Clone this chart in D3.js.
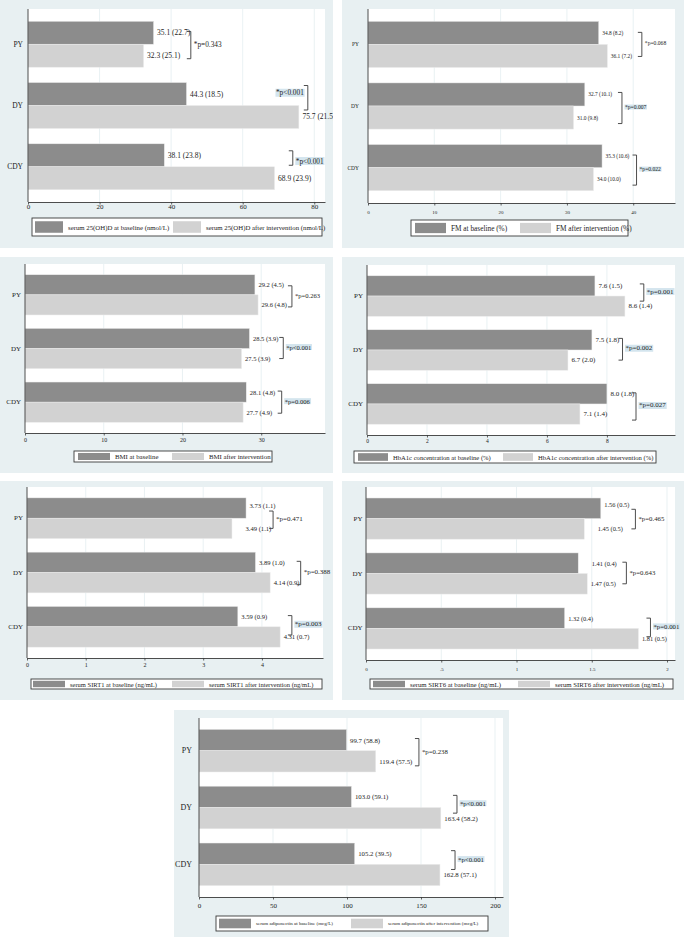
<!DOCTYPE html>
<html>
<head>
<meta charset="utf-8">
<script src="https://cdn.jsdelivr.net/npm/d3@7"></script>
<style>
html, body { margin: 0; padding: 0; background: #fff; }
svg { display: block; font-family: "Liberation Serif", "Times New Roman", serif; }
</style>
</head>
<body>
<div id="viz"></div>
<script>
// Seven paired bar panels: baseline vs after intervention, mean (SD), by group

const GROUPS = ["PY", "DY", "CDY"];

// serum 25(OH)D (nmol/L)
const VITD_BASE = [35.1, 44.3, 38.1];
const VITD_BASE_SD = [22.7, 18.5, 23.8];
const VITD_POST = [32.3, 75.7, 68.9];
const VITD_POST_SD = [25.1, 21.5, 23.9];
const VITD_P = ["=0.343", "<0.001", "<0.001"];
const VITD_TICKS = [0, 20, 40, 60, 80];

// fat mass (%)
const FM_BASE = [34.8, 32.7, 35.3];
const FM_BASE_SD = [8.2, 10.1, 10.6];
const FM_POST = [36.1, 31.0, 34.0];
const FM_POST_SD = [7.2, 9.8, 10.0];
const FM_P = ["=0.068", "=0.007", "=0.022"];
const FM_TICKS = [0, 10, 20, 30, 40];

// BMI
const BMI_BASE = [29.2, 28.5, 28.1];
const BMI_BASE_SD = [4.5, 3.9, 4.8];
const BMI_POST = [29.6, 27.5, 27.7];
const BMI_POST_SD = [4.8, 3.9, 4.9];
const BMI_P = ["=0.263", "<0.001", "=0.006"];
const BMI_TICKS = [0, 10, 20, 30];

// HbA1c (%)
const HBA_BASE = [7.6, 7.5, 8.0];
const HBA_BASE_SD = [1.5, 1.8, 1.8];
const HBA_POST = [8.6, 6.7, 7.1];
const HBA_POST_SD = [1.4, 2.0, 1.4];
const HBA_P = ["=0.001", "=0.002", "=0.027"];
const HBA_TICKS = [0, 2, 4, 6, 8];

// serum SIRT1 (ng/mL)
const SIRT1_BASE = [3.73, 3.89, 3.59];
const SIRT1_BASE_SD = [1.1, 1.0, 0.9];
const SIRT1_POST = [3.49, 4.14, 4.31];
const SIRT1_POST_SD = [1.1, 0.9, 0.7];
const SIRT1_P = ["=0.471", "=0.388", "=0.003"];
const SIRT1_TICKS = [0, 1, 2, 3, 4];

// serum SIRT6 (ng/mL)
const SIRT6_BASE = [1.56, 1.41, 1.32];
const SIRT6_BASE_SD = [0.5, 0.4, 0.4];
const SIRT6_POST = [1.45, 1.47, 1.81];
const SIRT6_POST_SD = [0.5, 0.5, 0.5];
const SIRT6_P = ["=0.465", "=0.643", "=0.001"];
const SIRT6_TICKS = [0, 0.5, 1, 1.5, 2];

// serum adiponectin (mcg/L)
const ADIPO_BASE = [99.7, 103.0, 105.2];
const ADIPO_BASE_SD = [58.8, 59.1, 39.5];
const ADIPO_POST = [119.4, 163.4, 162.8];
const ADIPO_POST_SD = [57.5, 58.2, 57.1];
const ADIPO_P = ["=0.238", "<0.001", "<0.001"];
const ADIPO_TICKS = [0, 50, 100, 150, 200];

const PANEL_BG = "#e8f0f2";
const GRID = "#e3edf0";
const DARK = "#8c8c8c";
const LIGHT = "#d2d2d2";
const INK = "#1c1c1c";
const AXIS = "#3a3a3a";
const HILITE = "#d4e5ee";

// layout per panel (frame / plot in px, bracket x in data units)
const PANELS = [
  {
    base: VITD_BASE, baseSd: VITD_BASE_SD, post: VITD_POST, postSd: VITD_POST_SD, p: VITD_P,
    ticks: VITD_TICKS, dec: 1, max: 83,
    legendText: ["serum 25(OH)D at baseline (nmol/L)", "serum 25(OH)D after intervention (nmol/L)"],
    frame: [0, 0, 333, 248], plot: [28, 9, 325, 202],
    legend: { box: [32, 218, 322, 236], items: [35, 173], sw: 28 },
    fs: { lab: 7.5, tick: 7, cat: 7.5, leg: 6.8, p: 7.3 }, tp: 2.5, catGap: 5,
    br: [{ x: 45.5, t: -1.3, b: 3 }, { x: 78.2, t: -8.5, b: -7, left: true, ty: -4 }, { x: 74, t: -4.5, b: -13, ty: 4 }]
  },
  {
    base: FM_BASE, baseSd: FM_BASE_SD, post: FM_POST, postSd: FM_POST_SD, p: FM_P,
    ticks: FM_TICKS, dec: 1, max: 46.3,
    legendText: ["FM at baseline (%)", "FM after intervention (%)"],
    frame: [342, 0, 684, 248], plot: [368, 9, 675, 203],
    legend: { box: [411, 220, 628, 236], items: [415, 520], sw: 31 },
    fs: { lab: 5.4, tick: 5, cat: 5.5, leg: 7.3, p: 5.6 }, tp: 7.5, catGap: 9,
    br: [{ x: 41.3, t: -0.5, b: 0.5 }, { x: 38.3, t: -2, b: 6 }, { x: 40.5, t: -1, b: 6 }]
  },
  {
    base: BMI_BASE, baseSd: BMI_BASE_SD, post: BMI_POST, postSd: BMI_POST_SD, p: BMI_P,
    ticks: BMI_TICKS, dec: 1, max: 38.1,
    legendText: ["BMI at baseline", "BMI after intervention"],
    frame: [0, 257, 333, 473], plot: [25, 264, 325, 433],
    legend: { box: [74, 451, 272, 462], items: [78, 172], sw: 32 },
    fs: { lab: 6.5, tick: 6, cat: 7, leg: 6.8, p: 6.6 }, tp: 5, catGap: 4,
    br: [{ x: 33.9, t: 1, b: 2 }, { x: 32.8, t: -1, b: 0 }, { x: 32.6, t: -1, b: 1 }]
  },
  {
    base: HBA_BASE, baseSd: HBA_BASE_SD, post: HBA_POST, postSd: HBA_POST_SD, p: HBA_P,
    ticks: HBA_TICKS, dec: 1, max: 10.27,
    legendText: ["HbA1c concentration at baseline (%)", "HbA1c concentration after intervention (%)"],
    frame: [342, 257, 684, 473], plot: [367, 265, 675, 435],
    legend: { box: [354, 451, 656, 463], items: [358, 503], sw: 30 },
    fs: { lab: 7, tick: 5.5, cat: 7, leg: 6.6, p: 7 }, tp: 4, catGap: 4,
    br: [{ x: 9.23, t: -2, b: -5 }, { x: 8.52, t: -1.5, b: 0 }, { x: 8.97, t: -1, b: 6 }]
  },
  {
    base: SIRT1_BASE, baseSd: SIRT1_BASE_SD, post: SIRT1_POST, postSd: SIRT1_POST_SD, p: SIRT1_P,
    ticks: SIRT1_TICKS, dec: 2, max: 5.04,
    legendText: ["serum SIRT1 at baseline (ng/mL)", "serum SIRT1 after intervention (ng/mL)"],
    frame: [0, 481, 333, 700], plot: [27, 487, 323, 658],
    legend: { box: [31, 679, 322, 689], items: [33, 172], sw: 32 },
    fs: { lab: 6.6, tick: 6, cat: 7, leg: 6.5, p: 7 }, tp: 5, catGap: 4,
    br: [{ x: 4.19, t: 3, b: 0 }, { x: 4.66, t: -1, b: 2 }, { x: 4.51, t: -1, b: -2 }],
    adj: { "PY-base": [0, -3], "PY-post": [10, 0] }
  },
  {
    base: SIRT6_BASE, baseSd: SIRT6_BASE_SD, post: SIRT6_POST, postSd: SIRT6_POST_SD, p: SIRT6_P,
    ticks: SIRT6_TICKS, dec: 2, max: 2.053,
    legendText: ["serum SIRT6 at baseline (ng/mL)", "serum SIRT6 after intervention (ng/mL)"],
    frame: [342, 481, 684, 700], plot: [366, 487, 675, 660],
    legend: { box: [370, 679, 673, 689], items: [373, 518], sw: 32 },
    fs: { lab: 6.4, tick: 5, cat: 7, leg: 6.8, p: 6.8 }, tp: 7, catGap: 3.5,
    br: [{ x: 1.79, t: 1, b: 0 }, { x: 1.73, t: -1, b: 0 }, { x: 1.89, t: 0, b: -2 }],
    adj: { "PY-base": [0, -4], "PY-post": [10, 0], "DY-base": [10, 0] }
  },
  {
    base: ADIPO_BASE, baseSd: ADIPO_BASE_SD, post: ADIPO_POST, postSd: ADIPO_POST_SD, p: ADIPO_P,
    ticks: ADIPO_TICKS, dec: 1, max: 205.4,
    legendText: ["serum adiponectin at baseline (mcg/L)", "serum adiponectin after intervention (mcg/L)"],
    frame: [174, 710, 509, 937], plot: [199, 718, 503, 897],
    legend: { box: [216, 916, 488, 931], items: [219, 351], sw: 32 },
    fs: { lab: 6.8, tick: 7, cat: 8, leg: 5, p: 6.8 }, tp: 6, catGap: 7,
    br: [{ x: 148.6, t: -1.5, b: 4.5 }, { x: 174.3, t: -1.5, b: -5 }, { x: 173, t: -3, b: -5.5 }]
  }
];

const svg = d3.select("#viz").append("svg")
  .attr("width", 685)
  .attr("height", 948);

const fmtTick = d => d3.format("~g")(d).replace(/^0\./, ".");

PANELS.forEach((P, i) => drawPanel(P, i));

function drawPanel(P, idx) {
  const [fx0, fy0, fx1, fy1] = P.frame;
  const [l, t, r, b] = P.plot;
  const clipId = "clip" + idx;

  svg.append("clipPath").attr("id", clipId)
    .append("rect")
    .attr("x", fx0).attr("y", fy0)
    .attr("width", fx1 - fx0).attr("height", fy1 - fy0);

  const g = svg.append("g").attr("clip-path", `url(#${clipId})`);

  g.append("rect")
    .attr("x", fx0).attr("y", fy0)
    .attr("width", fx1 - fx0).attr("height", fy1 - fy0)
    .attr("fill", PANEL_BG);

  g.append("rect")
    .attr("x", l).attr("y", t)
    .attr("width", r - l).attr("height", b - t)
    .attr("fill", "#fff");

  const x = d3.scaleLinear().domain([0, P.max]).range([l, r]);
  const y = d3.scaleBand().domain(GROUPS).range([t, b]).paddingInner(0.25).paddingOuter(0.2);
  const sub = d3.scaleBand().domain(["base", "post"]).range([0, y.bandwidth()]);
  const bh = sub.bandwidth();

  // grid
  g.selectAll(null)
    .data(P.ticks.filter(d => d > 0))
    .join("line")
    .attr("x1", d => x(d)).attr("x2", d => x(d))
    .attr("y1", t).attr("y2", b)
    .attr("stroke", GRID)
    .attr("stroke-width", 0.8);

  const series = [
    { key: "base", vals: P.base, sd: P.baseSd, fill: DARK },
    { key: "post", vals: P.post, sd: P.postSd, fill: LIGHT }
  ];

  const fmtVal = d3.format(`.${P.dec}f`);
  const fmtSd = d3.format(".1f");

  series.forEach(s => {
    g.selectAll(null)
      .data(GROUPS)
      .join("rect")
      .attr("x", x(0))
      .attr("y", d => y(d) + sub(s.key))
      .attr("width", (d, k) => x(s.vals[k]) - x(0))
      .attr("height", bh)
      .attr("fill", s.fill)
      .attr("stroke", "#ececec")
      .attr("stroke-width", 0.5);

    g.selectAll(null)
      .data(GROUPS)
      .join("text")
      .attr("x", (d, k) => x(s.vals[k]) + 3.5 + ((P.adj && P.adj[d + "-" + s.key]) || [0, 0])[0])
      .attr("y", d => y(d) + sub(s.key) + bh / 2 + ((P.adj && P.adj[d + "-" + s.key]) || [0, 0])[1])
      .attr("dominant-baseline", "central")
      .attr("font-size", P.fs.lab)
      .attr("fill", INK)
      .text((d, k) => `${fmtVal(s.vals[k])} (${fmtSd(s.sd[k])})`);
  });

  // brackets + p values
  GROUPS.forEach((grp, k) => {
    const br = P.br[k];
    const bx = x(br.x);
    const y1 = y(grp) + sub("base") + bh / 2 + br.t;
    const y2 = y(grp) + sub("post") + bh / 2 + br.b;

    g.append("path")
      .attr("d", `M${bx - 4},${y1}H${bx}V${y2}H${bx - 4}`)
      .attr("fill", "none")
      .attr("stroke", AXIS)
      .attr("stroke-width", 0.9);

    const pv = parseFloat(P.p[k].slice(1));
    const ty = (y1 + y2) / 2 - 1 + (br.ty || 0);
    const txt = g.append("text")
      .attr("x", br.left ? bx - 4 : bx + 3)
      .attr("y", ty)
      .attr("text-anchor", br.left ? "end" : "start")
      .attr("dominant-baseline", "central")
      .attr("font-size", P.fs.p)
      .attr("fill", INK)
      .text("*p" + P.p[k]);

    if (pv < 0.05) {
      const bb = txt.node().getBBox();
      g.insert("rect", () => txt.node())
        .attr("x", bb.x - 0.5).attr("y", bb.y + 0.5)
        .attr("width", bb.width + 1).attr("height", bb.height - 1)
        .attr("fill", HILITE);
    }
  });

  // x axis
  const tickSize = 2.5;
  const ax = g.append("g")
    .attr("transform", `translate(0,${b})`)
    .call(d3.axisBottom(x)
      .tickValues(P.ticks)
      .tickFormat(fmtTick)
      .tickSize(tickSize)
      .tickSizeOuter(0)
      .tickPadding(P.tp - tickSize));
  ax.attr("font-family", null).attr("font-size", P.fs.tick);
  ax.select(".domain").attr("stroke", AXIS).attr("stroke-width", 0.9);
  ax.selectAll(".tick line").attr("stroke", AXIS).attr("stroke-width", 0.8);
  ax.selectAll(".tick text").attr("fill", INK);

  // y axis
  g.append("line")
    .attr("x1", l).attr("x2", l)
    .attr("y1", t).attr("y2", b)
    .attr("stroke", AXIS)
    .attr("stroke-width", 0.9);

  g.selectAll(null)
    .data(GROUPS)
    .join("text")
    .attr("x", l - P.catGap)
    .attr("y", d => y(d) + y.bandwidth() / 2)
    .attr("text-anchor", "end")
    .attr("dominant-baseline", "central")
    .attr("font-size", P.fs.cat)
    .attr("fill", INK)
    .text(d => d);

  // legend
  const L = P.legend;
  const [lx0, ly0, lx1, ly1] = L.box;
  const inset = (ly1 - ly0) * 0.18;
  g.append("rect")
    .attr("x", lx0).attr("y", ly0)
    .attr("width", lx1 - lx0).attr("height", ly1 - ly0)
    .attr("fill", "#fff")
    .attr("stroke", AXIS)
    .attr("stroke-width", 0.9);

  [DARK, LIGHT].forEach((c, j) => {
    g.append("rect")
      .attr("x", L.items[j]).attr("y", ly0 + inset)
      .attr("width", L.sw).attr("height", ly1 - ly0 - 2 * inset)
      .attr("fill", c);
    g.append("text")
      .attr("x", L.items[j] + L.sw + 5)
      .attr("y", (ly0 + ly1) / 2)
      .attr("dominant-baseline", "central")
      .attr("font-size", P.fs.leg)
      .attr("fill", INK)
      .text(P.legendText[j]);
  });
}
</script>
</body>
</html>
